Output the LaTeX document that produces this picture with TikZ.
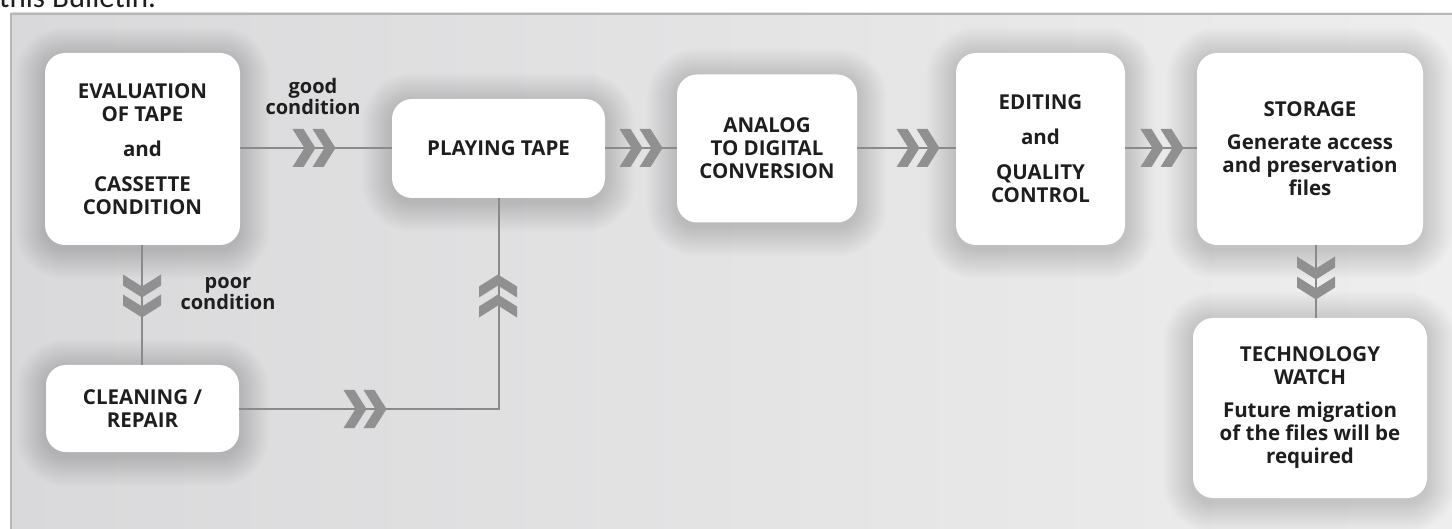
\documentclass[tikz,border=0pt]{standalone}
\usepackage{fontspec}
\setmainfont{Open Sans}
\newfontfamily\bulfont{Carlito}
\definecolor{linegray}{HTML}{8A8A8A}
\definecolor{chevgray}{HTML}{909090}
\definecolor{txt}{HTML}{1E1E1E}
\definecolor{panelL}{HTML}{D9D9DB}
\definecolor{panelR}{HTML}{EEEEEE}
\definecolor{panelborder}{HTML}{B5B5BA}
\pgfdeclarelayer{back}
\pgfdeclarelayer{shad}
\pgfsetlayers{back,shad,main}
\tikzset{
  box/.style={draw=none, fill=white, rounded corners=20pt, align=center,
    text=txt, font=\bfseries\fontsize{20.5}{23}\selectfont, inner sep=0pt},
  conn/.style={draw=linegray, line width=2pt},
  lbl/.style={align=center, text=txt, font=\bfseries\fontsize{20}{21}\selectfont, inner sep=0pt},
  chev/.pic={
    \fill[chevgray] (-21.5,-19) -- (-10.5,-19) -- (1.5,0) -- (-10.5,19) -- (-21.5,19) -- (-9.5,0) -- cycle;
    \fill[chevgray] (-1.5,-19) -- (9.5,-19) -- (21.5,0) -- (9.5,19) -- (-1.5,19) -- (10.5,0) -- cycle;
  }
}
\begin{document}
\begin{tikzpicture}[x=1pt,y=-1pt]
\useasboundingbox (0,0) rectangle (1452,529);
\begin{pgfonlayer}{back}
\fill[white] (0,0) rectangle (1452,529);
\shade[left color=panelL, right color=panelR] (11,13) rectangle (1452,529);
\draw[panelborder, line width=2.5pt] (11,529) -- (11,14) -- (1452,14);
\end{pgfonlayer}
% cut-off text line above the panel
\node[anchor=base west, inner sep=0pt, font=\bulfont\fontsize{31}{31}\selectfont, text=txt] (bul) at (-1,8) {this Bulletin.};

% boxes
\node[box, minimum width=195pt, minimum height=192pt] (eval) at (142.5,149)
  {EVALUATION\\OF TAPE\\[12pt]and\\[12pt]CASSETTE\\CONDITION};
\node[box, minimum width=213pt, minimum height=99pt] (play) at (498.5,148.5) {PLAYING TAPE};
\node[box, minimum width=180pt, minimum height=148pt] (ana) at (767,148.5)
  {ANALOG\\TO DIGITAL\\CONVERSION};
\node[box, minimum width=169pt, minimum height=192pt] (edit) at (1040.5,149)
  {EDITING\\[12pt]and\\[12pt]QUALITY\\CONTROL};
\node[box, minimum width=226pt, minimum height=192pt] (stor) at (1310,149)
  {STORAGE\\[10pt]Generate access\\and preservation\\files};
\node[box, minimum width=234pt, minimum height=180pt] (tech) at (1310,408)
  {TECHNOLOGY\\WATCH\\[10pt]Future migration\\of the files will be\\required};
\node[box, minimum width=193pt, minimum height=87pt] (clean) at (142.5,408.5)
  {CLEANING /\\REPAIR};

% soft shadows
\begin{pgfonlayer}{shad}
\foreach \n in {eval,play,ana,edit,stor,tech,clean}{
  \foreach \e in {1.5,3,...,30}{
    \fill[black, opacity=0.009, rounded corners=20pt+\e pt]
      ([shift={(-\e,-\e+4)}]\n.north west) rectangle ([shift={(\e,\e+4)}]\n.south east);
  }
}
\end{pgfonlayer}

% connectors
\coordinate (corner) at (499,409);
\draw[conn] (eval.east |- 0,148) -- (play.west |- 0,148);
\draw[conn] (play.east |- 0,148) -- (ana.west |- 0,148);
\draw[conn] (ana.east |- 0,148) -- (edit.west |- 0,148);
\draw[conn] (edit.east |- 0,148) -- (stor.west |- 0,148);
\draw[conn] (1316,0 |- stor.south) -- (1316,0 |- tech.north);
\draw[conn] (142,0 |- eval.south) -- (142,0 |- clean.north);
\draw[conn] (clean.east |- corner) -- (corner) -- (corner |- play.south);

% chevrons
\pic at (314,148) {chev};
\pic at (641,148) {chev};
\pic at (918,148) {chev};
\pic at (1162,148) {chev};
\pic at (365,409) {chev};
\pic[rotate=-90] at (142,296) {chev};
\pic[rotate=90] at (498,296) {chev};
\pic[rotate=-90] at (1316,278) {chev};

% labels
\node[lbl] (good) at (313,97) {good\\condition};
\node[lbl] (poor) at (228,294) {poor\\condition};
\end{tikzpicture}
\end{document}
